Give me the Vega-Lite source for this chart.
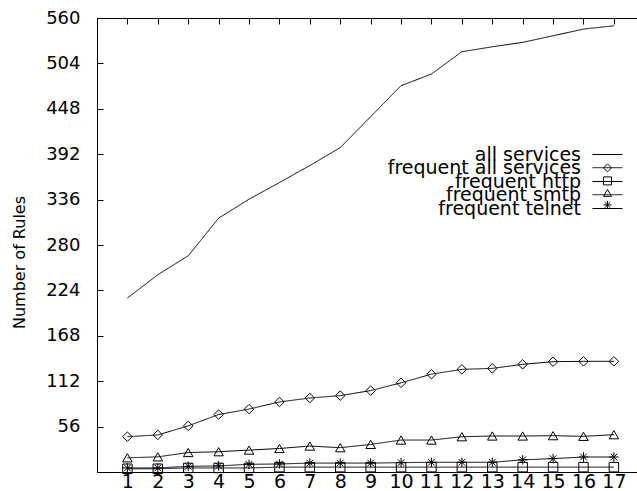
{
  "$schema": "https://vega.github.io/schema/vega-lite/v6.json",
  "autosize": {"type": "none"},
  "padding": {"left": 97, "top": 18, "right": 0, "bottom": 19},
  "width": 540,
  "height": 454,
  "background": "white",
  "data": {"values": [
    {"run": 1, "series": "all services", "rules": 214.6},
    {"run": 2, "series": "all services", "rules": 243.3},
    {"run": 3, "series": "all services", "rules": 266.7},
    {"run": 4, "series": "all services", "rules": 313.1},
    {"run": 5, "series": "all services", "rules": 336.5},
    {"run": 6, "series": "all services", "rules": 357},
    {"run": 7, "series": "all services", "rules": 378},
    {"run": 8, "series": "all services", "rules": 400.1},
    {"run": 9, "series": "all services", "rules": 438.3},
    {"run": 10, "series": "all services", "rules": 476.5},
    {"run": 11, "series": "all services", "rules": 490.9},
    {"run": 12, "series": "all services", "rules": 518.4},
    {"run": 13, "series": "all services", "rules": 524.5},
    {"run": 14, "series": "all services", "rules": 529.9},
    {"run": 15, "series": "all services", "rules": 538.1},
    {"run": 16, "series": "all services", "rules": 546.3},
    {"run": 17, "series": "all services", "rules": 550.4},
    {"run": 1, "series": "frequent all services", "rules": 43.6},
    {"run": 2, "series": "frequent all services", "rules": 45.7},
    {"run": 3, "series": "frequent all services", "rules": 56.9},
    {"run": 4, "series": "frequent all services", "rules": 70.9},
    {"run": 5, "series": "frequent all services", "rules": 77.6},
    {"run": 6, "series": "frequent all services", "rules": 86.4},
    {"run": 7, "series": "frequent all services", "rules": 91.3},
    {"run": 8, "series": "frequent all services", "rules": 94.2},
    {"run": 9, "series": "frequent all services", "rules": 100.4},
    {"run": 10, "series": "frequent all services", "rules": 110},
    {"run": 11, "series": "frequent all services", "rules": 120.7},
    {"run": 12, "series": "frequent all services", "rules": 126.6},
    {"run": 13, "series": "frequent all services", "rules": 127.8},
    {"run": 14, "series": "frequent all services", "rules": 132.8},
    {"run": 15, "series": "frequent all services", "rules": 136.1},
    {"run": 16, "series": "frequent all services", "rules": 136.5},
    {"run": 17, "series": "frequent all services", "rules": 136.5},
    {"run": 1, "series": "frequent http", "rules": 4},
    {"run": 2, "series": "frequent http", "rules": 4},
    {"run": 3, "series": "frequent http", "rules": 5},
    {"run": 4, "series": "frequent http", "rules": 5},
    {"run": 5, "series": "frequent http", "rules": 5},
    {"run": 6, "series": "frequent http", "rules": 6},
    {"run": 7, "series": "frequent http", "rules": 6},
    {"run": 8, "series": "frequent http", "rules": 6},
    {"run": 9, "series": "frequent http", "rules": 6},
    {"run": 10, "series": "frequent http", "rules": 6},
    {"run": 11, "series": "frequent http", "rules": 6},
    {"run": 12, "series": "frequent http", "rules": 6},
    {"run": 13, "series": "frequent http", "rules": 6},
    {"run": 14, "series": "frequent http", "rules": 6},
    {"run": 15, "series": "frequent http", "rules": 6},
    {"run": 16, "series": "frequent http", "rules": 6},
    {"run": 17, "series": "frequent http", "rules": 6},
    {"run": 1, "series": "frequent smtp", "rules": 17.5},
    {"run": 2, "series": "frequent smtp", "rules": 18.7},
    {"run": 3, "series": "frequent smtp", "rules": 24},
    {"run": 4, "series": "frequent smtp", "rules": 25},
    {"run": 5, "series": "frequent smtp", "rules": 27},
    {"run": 6, "series": "frequent smtp", "rules": 29},
    {"run": 7, "series": "frequent smtp", "rules": 32},
    {"run": 8, "series": "frequent smtp", "rules": 30},
    {"run": 9, "series": "frequent smtp", "rules": 34},
    {"run": 10, "series": "frequent smtp", "rules": 39.4},
    {"run": 11, "series": "frequent smtp", "rules": 39.4},
    {"run": 12, "series": "frequent smtp", "rules": 43.5},
    {"run": 13, "series": "frequent smtp", "rules": 44.4},
    {"run": 14, "series": "frequent smtp", "rules": 44.4},
    {"run": 15, "series": "frequent smtp", "rules": 44.8},
    {"run": 16, "series": "frequent smtp", "rules": 44},
    {"run": 17, "series": "frequent smtp", "rules": 46},
    {"run": 1, "series": "frequent telnet", "rules": 5},
    {"run": 2, "series": "frequent telnet", "rules": 5},
    {"run": 3, "series": "frequent telnet", "rules": 7},
    {"run": 4, "series": "frequent telnet", "rules": 7.5},
    {"run": 5, "series": "frequent telnet", "rules": 9.5},
    {"run": 6, "series": "frequent telnet", "rules": 9.9},
    {"run": 7, "series": "frequent telnet", "rules": 11},
    {"run": 8, "series": "frequent telnet", "rules": 11},
    {"run": 9, "series": "frequent telnet", "rules": 11},
    {"run": 10, "series": "frequent telnet", "rules": 11.5},
    {"run": 11, "series": "frequent telnet", "rules": 12},
    {"run": 12, "series": "frequent telnet", "rules": 12},
    {"run": 13, "series": "frequent telnet", "rules": 12},
    {"run": 14, "series": "frequent telnet", "rules": 15},
    {"run": 15, "series": "frequent telnet", "rules": 16.5},
    {"run": 16, "series": "frequent telnet", "rules": 18.5},
    {"run": 17, "series": "frequent telnet", "rules": 18.5}
  ]},
  "layer": [
    {
      "transform": [{"calculate": "datum.series", "as": "series2"}],
      "mark": {"type": "line", "strokeWidth": 1},
      "encoding": {
        "x": {"field": "run", "type": "quantitative",
              "scale": {"domain": [0, 17.76], "nice": false, "zero": false},
              "axis": {"orient": "bottom", "title": null, "values": [1,2,3,4,5,6,7,8,9,10,11,12,13,14,15,16,17],
                       "ticks": false, "labelFont": "DejaVu Sans", "labelFontSize": 19, "labelColor": "black",
                       "labelPadding": 0, "domainColor": "black", "grid": false, "labelFlush": false, "labelOverlap": false}},
        "y": {"field": "rules", "type": "quantitative",
              "scale": {"domain": [0, 560], "nice": false},
              "axis": {"title": "Number of Rules", "values": [56,112,168,224,280,336,392,448,504,560],
                       "tickSize": -6, "tickColor": "black", "labelPadding": 23, "labelFont": "DejaVu Sans",
                       "labelFontSize": 18, "labelColor": "black", "domainColor": "black", "grid": false,
                       "titleFont": "DejaVu Sans", "titleFontSize": 16, "titleFontWeight": "normal",
                       "titleColor": "black", "titlePadding": 18, "titleY": 244, "labelFlush": false, "labelOverlap": false}},
        "color": {"field": "series", "type": "nominal",
                  "scale": {"domain": ["all services", "frequent all services", "frequent http", "frequent smtp", "frequent telnet"],
                            "range": ["black", "black", "black", "black", "black"]},
                  "legend": {"orient": "none", "legendX": 495, "legendY": 121, "title": null, "padding": 0,
                             "values": ["all services", "frequent http", "frequent telnet"],
                             "symbolType": "stroke", "symbolSize": 900, "symbolStrokeWidth": 1,
                             "labelAlign": "right", "labelOffset": -42, "labelFont": "DejaVu Sans",
                             "labelFontSize": 19, "labelColor": "black", "labelLimit": 0, "rowPadding": 1}},
        "strokeDash": {"field": "series2", "type": "nominal",
                  "scale": {"domain": ["frequent all services", "frequent smtp", "all services", "frequent http", "frequent telnet"],
                            "range": [[1, 0], [1, 0], [1, 0], [1, 0], [1, 0]]},
                  "legend": {"orient": "none", "legendX": 495, "legendY": 134.2, "title": null, "padding": 0,
                             "values": ["frequent all services", "frequent smtp"],
                             "symbolType": "stroke", "symbolSize": 900, "symbolStrokeWidth": 1, "symbolStrokeColor": "black",
                             "labelAlign": "right", "labelOffset": -42, "labelFont": "DejaVu Sans",
                             "labelFontSize": 19, "labelColor": "black", "labelLimit": 0, "rowPadding": 1}}
      }
    },
    {
      "transform": [
        {"filter": "datum.series !== 'all services'"},
        {"calculate": "datum.series", "as": "kind"}
      ],
      "mark": {"type": "point", "filled": false, "color": "black", "strokeWidth": 1, "opacity": 1},
      "encoding": {
        "x": {"field": "run", "type": "quantitative",
              "axis": {"orient": "top", "title": null, "labels": false, "values": [1,2,3,4,5,6,7,8,9,10,11,12,13,14,15,16,17],
                       "tickSize": -6, "tickColor": "black", "domainColor": "black", "grid": false}},
        "y": {"field": "rules", "type": "quantitative"},
        "shape": {"field": "kind", "type": "nominal",
                  "scale": {"domain": ["frequent all services", "frequent http", "frequent smtp", "frequent telnet"],
                            "range": ["diamond", "square", "triangle-up", "M-1,0L1,0M0,-1L0,1M-0.7,-0.7L0.7,0.7M-0.7,0.7L0.7,-0.7"]},
                  "legend": {"orient": "none", "legendX": 506, "legendY": 145.4, "title": null, "padding": 0,
                             "symbolSize": 64, "symbolStrokeWidth": 1, "symbolStrokeColor": "black", "symbolFillColor": "transparent",
                             "labelExpr": "''", "labelFontSize": 1, "labelOffset": 0, "rowPadding": 0}}
      }
    }
  ],
  "resolve": {"axis": {"x": "independent"}},
  "config": {
    "view": {"stroke": "black", "strokeWidth": 1},
    "point": {"size": 90},
    "axis": {"domainWidth": 1, "tickWidth": 1}
  }
}
